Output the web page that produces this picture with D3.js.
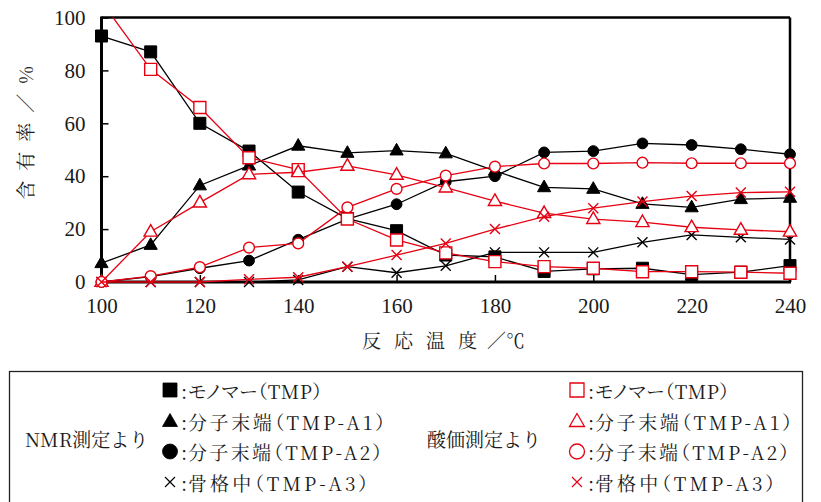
<!DOCTYPE html>
<html>
<head>
<meta charset="utf-8">
<script src="https://cdn.jsdelivr.net/npm/d3@7/dist/d3.min.js"></script>
<style>
  html, body { margin: 0; padding: 0; background: #fff; }
  svg { display: block; }
</style>
</head>
<body>
<svg id="chart" width="821" height="502"></svg>
<script>
// Reaction temperature (°C)
const temps = [100, 110, 120, 130, 140, 150, 160, 170, 180, 190, 200, 210, 220, 230, 240];

// Content (%) determined by NMR
const nmrTMP = [93, 87, 60, 49.5, 34, 24, 19.4, 10.2, 9.5, 4, 5, 5.2, 2.8, 3.7, 6.2];
const nmrA1  = [7.1, 14, 36.5, 44, 51.5, 48.8, 49.7, 48.6, 42, 35.8, 35.2, 29.5, 28.2, 31.3, 31.8];
const nmrA2  = [0, 2, 5.2, 8.1, 16, 23.8, 29.4, 37.9, 40, 49, 49.5, 52.4, 51.8, 50.2, 48.3];
const nmrA3  = [0, 0, 0, 0, 0.8, 5.8, 3.5, 6.1, 11.2, 11.2, 11.2, 15, 17.8, 16.9, 16.1];

// Content (%) determined by acid value
const acidTMP = [106, 80.4, 66, 47, 42.5, 23.8, 15.9, 11, 7.7, 5.8, 5.2, 3.9, 3.9, 3.7, 3.3];
const acidA1  = [0, 19, 30, 40.7, 41.5, 43.9, 40.5, 35.7, 30.6, 26, 23.8, 22.6, 20.7, 19.7, 19];
const acidA2  = [0, 2.2, 5.6, 13, 14.6, 28.2, 35.2, 40.2, 43.6, 44.8, 44.8, 45.1, 44.9, 44.9, 44.9];
const acidA3  = [0, 0, 0, 1, 1.8, 5.8, 10.2, 14.6, 20, 24.7, 27.9, 30.4, 32.5, 33.8, 34.1];

const xTicks = [100, 120, 140, 160, 180, 200, 220, 240];
const yTicks = [0, 20, 40, 60, 80, 100];

const legendRows = ["モノマー（TMP）", "分子末端（TMP-A1）", "分子末端（TMP-A2）", "骨格中（TMP-A3）"];
const legendGroups = ["NMR測定より", "酸価測定より"];

const RED = "#e60012";
const BLACK = "#000";
const SERIF = '"Liberation Serif", "Noto Serif CJK JP", serif';
const MINCHO = '"Noto Serif CJK JP", "Liberation Serif", serif';

const svg = d3.select("#chart");
const x = d3.scaleLinear().domain([100, 240]).range([101.5, 790]);
const y = d3.scaleLinear().domain([0, 100]).range([282, 17.5]);

// clip for the series lines (values above 100 run off the top edge)
svg.append("defs").append("clipPath").attr("id", "plotClip")
  .append("rect")
  .attr("x", x(100) - 8).attr("y", y(100))
  .attr("width", x(240) - x(100) + 16).attr("height", y(0) - y(100) + 10);

// axes with inward ticks
const xAxis = svg.append("g").attr("transform", `translate(0,${y(0)})`)
  .call(d3.axisBottom(x).tickValues(xTicks).tickSizeInner(-7).tickSizeOuter(0).tickPadding(16));
const yAxis = svg.append("g").attr("transform", `translate(${x(100)},0)`)
  .call(d3.axisLeft(y).tickValues(yTicks).tickSizeInner(-7).tickSizeOuter(0).tickPadding(16));
[xAxis, yAxis].forEach(g => {
  g.select(".domain").remove();
  g.selectAll(".tick line").attr("stroke", "#000").attr("stroke-width", 1.5);
  g.selectAll(".tick text")
    .style("font-family", SERIF).style("font-size", "21px").attr("fill", "#1a1a1a");
});

// frame
const frame = svg.append("g").attr("fill", "none").attr("stroke", "#000");
frame.append("line").attr("x1", x(100)).attr("x2", x(240)).attr("y1", y(100)).attr("y2", y(100)).attr("stroke-width", 2.5);
frame.append("line").attr("x1", x(240)).attr("x2", x(240)).attr("y1", y(100)).attr("y2", y(0)).attr("stroke-width", 2.5);
frame.append("line").attr("x1", x(100)).attr("x2", x(100)).attr("y1", y(100) - 1).attr("y2", y(0) + 1.5).attr("stroke-width", 3);
frame.append("line").attr("x1", x(100) - 1.5).attr("x2", x(240) + 1).attr("y1", y(0)).attr("y2", y(0)).attr("stroke-width", 3);

// marker shapes, centred on (0,0)
const shapes = {
  square: "M-6,-6H6V6H-6Z",
  triangle: "M0,-7.2L6.6,4.4H-6.6Z",
  circle: d3.symbol(d3.symbolCircle, Math.PI * 5.4 * 5.4)(),
  cross: "M-5,-5L5,5M-5,5L5,-5"
};

function drawSeries(values, color, shape, filled) {
  const pts = temps.map((t, i) => ({ t, v: values[i] }));
  const g = svg.append("g");
  g.append("path")
    .attr("clip-path", "url(#plotClip)")
    .attr("d", d3.line().x(d => x(d.t)).y(d => y(d.v))(pts))
    .attr("fill", "none").attr("stroke", color).attr("stroke-width", 1.3);
  g.selectAll("path.m").data(pts.filter(d => d.v <= 100)).join("path")
    .attr("class", "m")
    .attr("transform", d => `translate(${x(d.t)},${y(d.v)})`)
    .attr("d", shapes[shape])
    .attr("fill", shape === "cross" ? "none" : (filled ? color : "#fff"))
    .attr("stroke", color)
    .attr("stroke-width", shape === "cross" ? 1.4 : (filled ? 1 : 1.4));
}

drawSeries(nmrTMP, BLACK, "square", true);
drawSeries(nmrA1, BLACK, "triangle", true);
drawSeries(nmrA2, BLACK, "circle", true);
drawSeries(nmrA3, BLACK, "cross", true);
drawSeries(acidTMP, RED, "square", false);
drawSeries(acidA1, RED, "triangle", false);
drawSeries(acidA2, RED, "circle", false);
drawSeries(acidA3, RED, "cross", false);

// axis titles
svg.append("text")
  .attr("transform", "translate(24,133) rotate(-90)")
  .attr("text-anchor", "middle").attr("dominant-baseline", "central")
  .attr("letter-spacing", 10).attr("dx", 5).attr("fill", "#1a1a1a")
  .style("font-family", MINCHO).style("font-size", "19px")
  .text("含有率／%");

const xt = svg.append("text").attr("x", 362).attr("y", 348).attr("fill", "#1a1a1a")
  .style("font-family", MINCHO).style("font-size", "19px");
xt.append("tspan").attr("letter-spacing", 13).text("反応温度");
xt.append("tspan").attr("dx", -3).text("／℃");

// legend box
svg.append("rect").attr("x", 9.5).attr("y", 371.5).attr("width", 793).attr("height", 160)
  .attr("fill", "none").attr("stroke", "#222").attr("stroke-width", 1.3);

const rowY = [390, 421, 451.5, 482];
const rowEnds = [322, 385, 382, 368];
const legShapes = {
  square: "M-7,-7H7V7H-7Z",
  triangle: "M0,-7.5L7.5,5.5H-7.5Z",
  circle: d3.symbol(d3.symbolCircle, Math.PI * 7.5 * 7.5)(),
  cross: "M-5,-5L5,5M-5,5L5,-5"
};
const legendShapeOrder = ["square", "triangle", "circle", "cross"];

legendGroups.forEach((label, gi) => {
  const off = gi === 0 ? 0 : 407;
  const color = gi === 0 ? BLACK : RED;
  svg.append("text")
    .attr("x", gi === 0 ? 25 : 427).attr("y", 438)
    .attr("dominant-baseline", "central").attr("fill", "#1a1a1a")
    .style("font-family", MINCHO).style("font-size", "19px")
    .text(label);
  legendRows.forEach((row, ri) => {
    const shape = legendShapeOrder[ri];
    const filled = gi === 0;
    svg.append("path")
      .attr("transform", `translate(${170 + off},${rowY[ri]})`)
      .attr("d", legShapes[shape])
      .attr("fill", shape === "cross" ? "none" : (filled ? color : "#fff"))
      .attr("stroke", color)
      .attr("stroke-width", shape === "cross" ? 1.2 : (filled ? 0.8 : 1.3));
    svg.append("text")
      .attr("x", 181 + off).attr("y", rowY[ri])
      .attr("dominant-baseline", "central").attr("fill", "#1a1a1a")
      .style("font-family", MINCHO).style("font-size", "19px")
      .text(":");
    svg.append("text")
      .attr("x", 188 + off).attr("y", rowY[ri])
      .attr("dominant-baseline", "central").attr("fill", "#1a1a1a")
      .style("font-family", MINCHO).style("font-size", "19px")
      .style("font-feature-settings", '"palt"')
      .attr("textLength", rowEnds[ri] - 188).attr("lengthAdjust", "spacing")
      .text(row);
  });
});
</script>
</body>
</html>
